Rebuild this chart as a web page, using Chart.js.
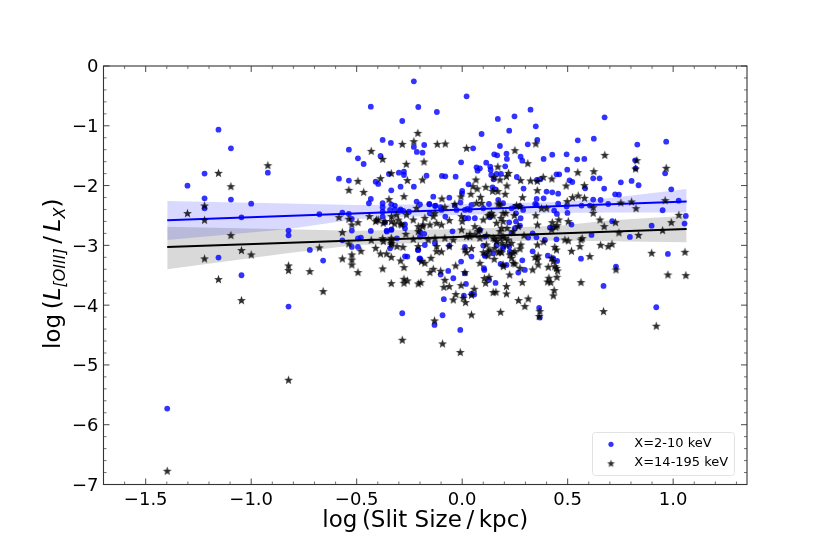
<!DOCTYPE html>
<html>
  <head>
    <title>Slit size</title>
    <script src="https://cdn.jsdelivr.net/npm/chart.js@4/dist/chart.umd.js"></script>
    <style>
      body { margin: 0; background: #fff; }
      canvas { display: block; }
    </style>
  </head>
  <body>
    <canvas id="slitChart" width="830" height="554"></canvas>
    <script>
      // values: [log slit size, log ratio]
      var softPoints = [
        [-0.229,-0.256],[-0.433,-0.680],[-0.208,-0.686],[-0.284,-0.920],[-1.155,-1.065],[-0.377,-1.237],[-0.338,-1.287],[-1.096,-1.377],
        [-0.229,-1.354],[-0.215,-1.438],[-0.537,-1.399],[-0.494,-1.544],[-0.387,-1.505],[-0.467,-1.639],[-1.221,-1.800],[-0.921,-1.784],
        [-0.347,-1.806],[-0.300,-1.784],[-0.276,-1.767],[-0.276,-1.823],[-0.584,-1.884],[-0.537,-1.917],[-0.410,-1.934],[-0.398,-1.973],
        [-1.302,-2.001],[-0.292,-2.018],[-0.229,-2.018],[-0.336,-2.079],[-1.221,-2.213],[-1.096,-2.235],[-0.433,-2.224],[-0.442,-2.296],
        [-1.000,-2.302],[-0.377,-2.296],[-1.221,-2.380],[-0.377,-2.363],[-0.216,-2.268],[-0.336,-2.313],[-0.319,-2.335],[-0.377,-2.436],
        [-0.677,-2.480],[-0.568,-2.453],[-0.537,-2.475],[-0.319,-2.397],[-0.292,-2.397],[-0.279,-2.425],[-0.252,-2.436],[-1.046,-2.531],
        [-0.523,-2.559],[-0.377,-2.519],[-0.366,-2.614],[-0.271,-2.648],[-0.823,-2.753],[-0.823,-2.832],[-0.523,-2.753],[-0.433,-2.759],
        [-0.357,-2.770],[-0.336,-2.742],[-0.271,-2.715],[-0.568,-2.915],[-0.494,-2.882],[-0.480,-2.870],[-0.309,-2.882],[-0.523,-3.027],
        [-0.494,-3.027],[-0.210,-3.077],[-1.155,-3.205],[-0.722,-3.077],[-0.659,-3.255],[-0.271,-3.183],[-0.260,-3.188],[-0.203,-3.227],
        [-1.046,-3.500],[-0.823,-4.024],[-0.284,-4.136],[-1.398,-5.730],
        [0.021,-0.507],[-0.120,-0.769],[0.169,-0.886],[0.248,-0.842],[0.324,-0.730],[0.349,-1.009],[0.223,-1.081],[0.092,-1.137],
        [0.675,-0.858],[0.356,-1.237],[0.548,-1.243],[0.624,-1.215],[0.311,-1.310],[0.179,-1.338],[-0.180,-1.321],[0.830,-1.315],
        [0.967,-1.265],[-0.188,-1.449],[0.052,-1.377],[0.152,-1.477],[0.166,-1.494],[0.210,-1.466],[0.277,-1.516],[0.285,-1.583],
        [0.212,-1.555],[0.386,-1.555],[0.427,-1.483],[0.495,-1.477],[0.545,-1.561],[0.579,-1.555],[0.820,-1.577],[-0.005,-1.611],
        [0.114,-1.617],[0.068,-1.695],[0.084,-1.711],[0.133,-1.683],[0.073,-1.750],[0.135,-1.739],[0.204,-1.678],[0.498,-1.734],
        [0.822,-1.711],[0.962,-1.795],[0.138,-1.823],[0.163,-1.806],[0.184,-1.806],[-0.096,-1.839],[-0.080,-1.845],[-0.031,-1.851],
        [-0.169,-1.834],[0.259,-1.856],[0.354,-1.906],[0.371,-1.895],[0.447,-1.812],[0.460,-1.812],[0.509,-1.912],[0.522,-1.940],
        [0.621,-1.878],[0.651,-1.878],[0.752,-1.945],[0.803,-1.923],[0.836,-1.995],[0.030,-1.979],[0.149,-1.895],[0.000,-2.090],
        [-0.001,-2.129],[0.144,-2.029],[0.157,-2.062],[0.291,-2.051],[0.400,-2.101],[0.427,-2.113],[0.455,-2.135],[0.673,-2.051],
        [-0.137,-2.185],[-0.061,-2.202],[0.583,-2.046],[0.353,-2.224],[0.386,-2.213],[0.353,-2.324],[0.725,-2.146],[0.743,-2.152],
        [0.621,-2.235],[0.656,-2.241],[0.991,-2.062],[1.026,-2.252],[-0.155,-2.313],[-0.126,-2.335],[-0.102,-2.363],[-0.035,-2.330],
        [-0.008,-2.285],[0.044,-2.324],[0.127,-2.308],[0.455,-2.302],[0.692,-2.308],[0.950,-2.413],[0.346,-2.308],[0.495,-2.352],
        [0.566,-2.335],[0.605,-2.335],[-0.200,-2.313],[-0.080,-2.519],[-0.027,-2.408],[0.013,-2.408],[0.025,-2.391],[0.100,-2.380],
        [-0.153,-2.464],[0.499,-2.458],[0.436,-2.419],[0.449,-2.475],[0.255,-2.464],[0.289,-2.408],[0.277,-2.547],[1.060,-2.508],
        [1.054,-2.636],[0.711,-2.597],[0.898,-2.670],[0.613,-2.826],[0.795,-2.859],[0.223,-2.614],[0.255,-2.603],[0.274,-2.670],
        [0.518,-2.653],[0.416,-2.703],[0.428,-2.703],[0.334,-2.798],[0.313,-2.870],[-0.046,-2.765],[-0.180,-2.809],[0.447,-2.899],
        [-0.200,-2.854],[-0.129,-2.965],[-0.061,-3.004],[0.013,-3.027],[0.044,-3.188],[0.334,-3.099],[0.406,-3.172],[0.563,-3.222],
        [0.975,-3.144],[0.285,-3.250],[-0.005,-3.272],[0.103,-3.383],[-0.066,-3.428],[-0.196,-3.244],[0.729,-3.355],[0.450,-3.261],
        [0.195,-3.021],[0.223,-3.021],[-0.200,-2.770],[0.297,-3.411],[-0.102,-3.489],[-0.042,-3.550],[0.013,-3.467],[0.266,-3.456],
        [0.127,-3.578],[0.158,-3.628],[0.018,-3.645],[0.670,-3.679],[-0.087,-3.901],[-0.093,-4.169],[0.008,-3.840],[0.044,-3.812],
        [0.057,-3.823],[0.365,-4.046],[0.368,-4.208],[-0.131,-4.331],[-0.009,-4.414],[0.920,-4.035],[0.105,-3.411],
        [0.250,-2.714],[0.234,-2.798],[0.352,-2.865],[0.392,-2.909],[0.171,-2.240],[0.194,-2.296],[0.234,-2.380],[0.250,-2.352],
        [0.273,-2.341],[0.036,-2.408],[0.060,-2.547],[0.029,-2.547],[0.013,-2.547],[0.084,-2.742],[0.108,-2.854],[0.100,-3.004],
        [0.194,-3.049],[0.163,-2.993],[0.108,-3.160],[0.131,-2.530],[0.108,-3.177],[0.147,-3.133],[0.182,-3.311],[0.210,-3.328],
        [0.431,-3.216],[0.226,-3.105],[-0.342,-2.408],[-0.295,-2.420],[-0.156,-2.308],[-0.129,-2.342],[-0.098,-2.408],[-0.342,-3.050],
        [-0.177,-2.994],[-0.208,-3.077],[-0.200,-3.217],[-0.358,-2.754],[-0.335,-2.732]
      ];
      var hardPoints = [
        [-0.921,-1.667],[-1.155,-1.795],[-1.096,-2.018],[-1.302,-2.469],[-1.221,-2.341],[-1.221,-2.581],[-1.096,-2.837],[-1.046,-3.088],
        [-1.000,-3.160],[-1.221,-3.227],[-0.823,-3.344],[-0.823,-3.422],[-0.722,-3.439],[-0.677,-3.043],[-0.584,-2.536],[-0.537,-2.564],
        [-0.523,-2.659],[-0.494,-2.620],[-0.568,-2.787],[-0.568,-3.227],[-0.537,-2.977],[-0.523,-3.160],[-0.523,-3.244],[-0.523,-3.328],
        [-0.480,-3.099],[-0.494,-3.456],[-0.431,-1.427],[-0.377,-1.561],[-0.284,-1.310],[-0.229,-1.265],[-0.210,-1.126],[-0.265,-1.644],
        [-0.336,-1.800],[-0.387,-1.884],[-0.260,-1.917],[-0.494,-1.929],[-0.537,-2.079],[-0.467,-2.113],[-0.276,-2.185],[-0.347,-2.235],
        [-0.440,-2.519],[-0.410,-2.603],[-0.398,-2.575],[-0.366,-2.603],[-0.335,-2.519],[-0.311,-2.492],[-0.335,-2.603],[-0.320,-2.642],
        [-0.292,-2.642],[-0.264,-2.492],[-0.232,-2.575],[-0.208,-2.687],[-0.267,-2.815],[-0.431,-2.915],[-0.410,-3.049],[-0.377,-2.887],
        [-0.374,-2.937],[-0.336,-2.882],[-0.336,-2.937],[-0.336,-2.993],[-0.309,-3.021],[-0.281,-3.032],[-0.387,-3.144],[-0.358,-3.144],
        [-0.336,-3.200],[-0.292,-3.261],[-0.276,-3.372],[-0.377,-3.394],[-0.216,-2.380],[-0.208,-3.021],
        [-1.155,-3.573],[-1.046,-3.924],[-0.659,-3.773],[-0.336,-3.640],[-0.276,-3.567],[-0.260,-3.595],[-0.276,-3.634],[-0.208,-3.645],
        [-0.284,-4.587],[-0.823,-5.256],[-1.398,-6.778],
        [-0.118,-1.310],[-0.080,-1.304],[0.021,-1.377],[0.349,-1.304],[-0.181,-1.605],[0.250,-1.416],[0.311,-1.633],[0.676,-1.494],
        [0.828,-1.583],[0.822,-1.722],[0.967,-1.711],[0.169,-1.689],[-0.188,-1.906],[0.065,-1.906],[0.152,-1.867],[0.179,-1.906],
        [0.210,-1.851],[0.220,-1.795],[0.384,-1.862],[0.425,-1.890],[0.356,-1.929],[0.277,-1.917],[0.324,-1.923],[0.548,-1.784],
        [0.624,-1.767],[0.493,-2.007],[0.579,-2.001],[0.051,-2.018],[0.071,-2.057],[0.112,-2.029],[0.144,-2.096],[0.169,-2.101],
        [0.204,-2.146],[0.212,-2.007],[0.356,-2.085],[-0.096,-2.224],[-0.006,-2.191],[0.041,-2.146],[0.087,-2.196],[0.286,-2.202],
        [0.550,-2.174],[0.523,-2.202],[0.498,-2.268],[0.580,-2.213],[0.752,-2.291],[0.803,-2.274],[0.824,-2.386],[0.962,-2.252],
        [-0.035,-2.313],[0.092,-2.296],[0.068,-2.296],[0.171,-2.308],[0.258,-2.335],[0.274,-2.352],[0.621,-2.464],[0.621,-2.369],
        [0.376,-2.386],[0.400,-2.386],[-0.082,-2.363],[-0.129,-2.464],[-0.177,-2.547],[-0.003,-2.519],[0.000,-2.603],[0.100,-2.575],
        [0.131,-2.492],[0.139,-2.464],[0.123,-2.503],[0.207,-2.464],[0.184,-2.547],[0.247,-2.503],[0.349,-2.503],[0.357,-2.659],
        [0.653,-2.575],[0.727,-2.620],[0.673,-2.687],[1.027,-2.497],[0.991,-2.620],[0.427,-2.620],[0.450,-2.670],[0.444,-2.698],
        [0.503,-2.603],[-0.153,-2.659],[-0.121,-2.631],[-0.188,-2.687],[-0.003,-2.742],[-0.061,-2.586],[0.037,-2.815],[0.060,-2.687],
        [0.084,-2.742],[0.116,-2.837],[0.147,-2.882],[0.179,-2.770],[0.213,-2.715],[0.163,-2.937],[0.179,-2.882],[0.202,-2.882],
        [0.218,-2.910],[0.293,-2.837],[0.743,-2.792],[0.836,-2.832],[0.950,-2.753],[0.569,-2.887],[0.563,-2.910],[0.487,-2.910],
        [0.503,-2.926],[0.386,-2.943],[0.357,-2.993],[0.439,-3.032],[0.447,-3.077],[0.518,-3.099],[0.558,-3.021],[0.656,-2.999],
        [0.692,-3.021],[0.710,-2.982],[0.605,-3.188],[0.898,-3.133],[1.056,-3.116],[-0.129,-2.882],[-0.042,-2.910],[-0.082,-2.882],
        [-0.161,-2.910],[-0.121,-3.021],[-0.121,-3.105],[-0.098,-3.110],[-0.061,-3.021],[0.013,-3.077],[0.044,-3.054],[0.100,-3.121],
        [0.131,-3.077],[0.155,-3.049],[0.179,-3.105],[0.242,-3.133],[0.278,-2.993],[0.274,-3.060],[0.234,-3.216],[0.242,-3.300],
        [0.152,-3.233],[0.084,-3.300],[0.195,-3.355],[-0.148,-3.216],[-0.177,-3.300],[-0.193,-3.272],[0.345,-3.200],[0.357,-3.244],
        [0.424,-3.216],[0.432,-3.272],[0.447,-3.383],[0.408,-3.366],[0.360,-3.328],[0.334,-3.411],[0.274,-3.383],[-0.031,-3.344],
        [-0.137,-3.400],[-0.153,-3.456],[-0.102,-3.433],[-0.082,-3.584],[0.013,-3.456],[0.225,-3.495],[0.105,-3.556],[0.127,-3.534],
        [0.111,-3.634],[-0.005,-3.673],[-0.087,-3.701],[-0.061,-3.690],[-0.030,-3.823],[-0.042,-3.913],[0.005,-3.885],[0.016,-3.957],
        [0.044,-3.835],[0.057,-3.734],[0.147,-3.790],[0.160,-3.784],[0.210,-3.690],[0.210,-3.812],[0.285,-3.623],[0.267,-3.924],
        [0.313,-3.896],[0.297,-4.024],[0.182,-4.119],[0.044,-4.164],[-0.131,-4.264],[-0.093,-4.648],[-0.009,-4.793],[0.411,-3.550],
        [0.405,-3.612],[0.420,-3.623],[0.436,-3.757],[0.432,-3.846],[0.449,-3.534],[0.563,-3.623],[0.368,-4.108],[0.365,-4.191],
        [0.670,-4.108],[0.920,-4.353],[0.975,-3.495],[1.060,-3.506],[-0.196,-3.623],[0.452,-3.428],[0.729,-3.411],
        [0.147,-2.508],[0.179,-2.324],[0.194,-2.463],[0.194,-2.603],[0.163,-2.631],[0.187,-2.714],[0.242,-2.770],[0.266,-2.686],
        [0.155,-2.898],[0.194,-2.854],[0.187,-2.965],[0.210,-2.993],[0.234,-2.965],[0.123,-3.104],[0.250,-3.104],[0.060,-2.826],
        [0.036,-2.854],[0.076,-2.770],[0.084,-2.881],[0.021,-2.854],[0.424,-2.742],[0.458,-2.575],[0.115,-2.993],[0.021,-3.122],
        [0.123,-3.177],[0.171,-3.122],[0.187,-3.122],[0.226,-3.161],[0.250,-3.311],[0.194,-3.328],[0.360,-3.177],[0.439,-3.356],
        [-0.406,-2.576],[-0.374,-2.631],[-0.303,-2.576],[-0.287,-2.659],[-0.185,-2.659],[-0.098,-2.659],[-0.137,-2.520],[-0.208,-2.771],
        [-0.335,-2.966],[-0.232,-2.899]
      ];

      // fit lines and their confidence bands
      var fitX = [-1.398, 1.064];
      var softFit = [-2.581, -2.268];
      var hardFit = [-3.027, -2.725];
      var bandX = [-1.398, -0.83, -0.5, 0, 0.46, 0.69, 1.064];
      var softUpper = [-2.258, -2.30, -2.324, -2.31, -2.274, -2.212, -2.057];
      var softLower = [-2.910, -2.731, -2.56, -2.49, -2.46, -2.45, -2.45];
      var hardUpper = [-2.687, -2.73, -2.754, -2.726, -2.672, -2.585, -2.503];
      var hardLower = [-3.40, -3.133, -2.993, -2.938, -2.92, -2.93, -2.948];

      var xTicks = [-1.5, -1.0, -0.5, 0.0, 0.5, 1.0];
      var yTicks = [0, -1, -2, -3, -4, -5, -6, -7];
      var xMinor = [-1.7, -1.6, -1.4, -1.3, -1.2, -1.1, -0.9, -0.8, -0.7, -0.6, -0.4, -0.3, -0.2, -0.1, 0.1, 0.2, 0.3, 0.4, 0.6, 0.7, 0.8, 0.9, 1.1, 1.2, 1.3];
      var yMinor = [-0.2, -0.4, -0.6, -0.8, -1.2, -1.4, -1.6, -1.8, -2.2, -2.4, -2.6, -2.8, -3.2, -3.4, -3.6, -3.8, -4.2, -4.4, -4.6, -4.8, -5.2, -5.4, -5.6, -5.8, -6.2, -6.4, -6.6, -6.8];
      var legendLabels = ["X=2-10 keV", "X=14-195 keV"];

      var fontFamily = "'DejaVu Sans', sans-serif";
      var softColor = "rgba(0, 0, 255, 0.8)";
      var hardColor = "rgba(0, 0, 0, 0.82)";

      // Chart.js 'star' is an asterisk, so make a filled five pointed one
      function makeStar(size, outer, inner, color) {
        var c = document.createElement("canvas");
        c.width = size;
        c.height = size;
        var g = c.getContext("2d");
        g.fillStyle = color;
        g.beginPath();
        for (var i = 0; i < 10; i++) {
          var r = i % 2 ? inner : outer;
          var a = -Math.PI / 2 + i * Math.PI / 5;
          g.lineTo(size / 2 + r * Math.cos(a), size / 2 + r * Math.sin(a));
        }
        g.closePath();
        g.fill();
        return c;
      }
      var starImage = makeStar(11, 4.7, 2.0, hardColor);

      function zip(xs, ys) {
        return xs.map(function (x, i) { return { x: x, y: ys[i] }; });
      }
      function toXY(p) {
        return { x: p[0], y: p[1] };
      }
      function bandSet(ys, fill, color, order) {
        return { data: zip(bandX, ys), showLine: true, pointRadius: 0, borderWidth: 0, fill: fill, backgroundColor: color, order: order, tension: 0 };
      }
      function fitSet(ys, color, order) {
        return { data: zip(fitX, ys), showLine: true, pointRadius: 0, borderWidth: 2, borderColor: color, fill: false, order: order };
      }

      // inward ticks on all four sides and the frame
      var framePlugin = {
        id: "frame",
        afterDraw: function (chart) {
          var g = chart.ctx, a = chart.chartArea, x = chart.scales.x, y = chart.scales.y;
          g.save();
          g.strokeStyle = "#333";
          function mark(x0, y0, x1, y1, w) {
            g.lineWidth = w;
            g.beginPath();
            g.moveTo(x0, y0);
            g.lineTo(x1, y1);
            g.stroke();
          }
          xMinor.forEach(function (v) {
            var p = x.getPixelForValue(v);
            mark(p, a.top, p, a.top + 3, 0.7);
            mark(p, a.bottom, p, a.bottom - 3, 0.7);
          });
          xTicks.forEach(function (v) {
            var p = x.getPixelForValue(v);
            mark(p, a.top, p, a.top + 6, 0.9);
            mark(p, a.bottom, p, a.bottom - 6, 0.9);
          });
          yMinor.forEach(function (v) {
            var p = y.getPixelForValue(v);
            mark(a.left, p, a.left + 3, p, 0.7);
            mark(a.right, p, a.right - 3, p, 0.7);
          });
          yTicks.forEach(function (v) {
            var p = y.getPixelForValue(v);
            mark(a.left, p, a.left + 6, p, 0.9);
            mark(a.right, p, a.right - 6, p, 0.9);
          });
          g.lineWidth = 1.1;
          g.strokeRect(a.left, a.top, a.right - a.left, a.bottom - a.top);
          g.restore();
        }
      };

      // y title needs subscripts, so it goes piece by piece
      var yTitlePlugin = {
        id: "yTitle",
        afterDraw: function (chart) {
          var g = chart.ctx;
          var big = "23px " + fontFamily, bigI = "italic 23px " + fontFamily, small = "italic 16px " + fontFamily;
          var parts = [
            ["log\u2009(", big, 0], ["L", bigI, 0], ["[OIII]", small, 5], ["\u2009/\u2009", big, 0],
            ["L", bigI, 0], ["X", small, 5], [")", big, 0]
          ];
          g.save();
          g.translate(60, 349);
          g.rotate(-Math.PI / 2);
          g.fillStyle = "#000";
          g.textBaseline = "alphabetic";
          var pos = 0;
          parts.forEach(function (p) {
            g.font = p[1];
            g.fillText(p[0], pos, p[2]);
            pos += g.measureText(p[0]).width;
          });
          g.restore();
        }
      };

      var legendPlugin = {
        id: "boxLegend",
        afterDraw: function (chart) {
          var g = chart.ctx;
          g.save();
          g.fillStyle = "rgba(255, 255, 255, 0.8)";
          g.strokeStyle = "#e2e2e2";
          g.lineWidth = 1;
          g.beginPath();
          g.roundRect(592.5, 432.5, 142, 43, 3);
          g.fill();
          g.stroke();
          g.fillStyle = softColor;
          g.beginPath();
          g.arc(611, 444.3, 2.6, 0, Math.PI * 2);
          g.fill();
          g.drawImage(makeStar(11, 4, 1.7, hardColor), 611 - 5.5, 463.7 - 5.5);
          g.fillStyle = "#000";
          g.font = "13px " + fontFamily;
          g.textBaseline = "middle";
          g.fillText(legendLabels[0], 634.3, 443.5);
          g.fillText(legendLabels[1], 634.3, 462.7);
          g.restore();
        }
      };

      var ctx = document.getElementById("slitChart").getContext("2d");
      var slitChart = new Chart(ctx, {
        type: "scatter",
        data: {
          datasets: [
            bandSet(softUpper, "+1", "rgba(0, 0, 255, 0.15)", 9),
            bandSet(softLower, false, "rgba(0, 0, 255, 0)", 9),
            bandSet(hardUpper, "+1", "rgba(0, 0, 0, 0.15)", 8),
            bandSet(hardLower, false, "rgba(0, 0, 0, 0)", 8),
            { label: legendLabels[0], data: softPoints.map(toXY), pointStyle: "circle", pointRadius: 2.9, borderWidth: 0, backgroundColor: softColor, order: 7 },
            fitSet(softFit, "#0000ff", 6),
            { label: legendLabels[1], data: hardPoints.map(toXY), pointStyle: starImage, pointRadius: 5, order: 5 },
            fitSet(hardFit, "#000000", 4)
          ]
        },
        options: {
          responsive: false,
          animation: false,
          devicePixelRatio: 1,
          layout: { padding: { top: 66, right: 83, left: 0, bottom: 19 } },
          plugins: { legend: { display: false }, tooltip: { enabled: false } },
          scales: {
            x: {
              min: -1.7,
              max: 1.35,
              grid: { display: false, drawTicks: false },
              border: { display: false },
              afterBuildTicks: function (s) { s.ticks = xTicks.map(function (v) { return { value: v }; }); },
              afterFit: function (s) { s.height = 50.5; },
              ticks: {
                color: "#000",
                padding: 5,
                maxRotation: 0,
                autoSkip: false,
                font: { family: fontFamily, size: 18 },
                callback: function (v) { return v.toFixed(1).replace("-", "\u2212"); }
              },
              title: {
                display: true,
                text: "log\u2009(Slit Size\u2009/\u2009kpc)",
                color: "#000",
                padding: { top: 0, bottom: 0 },
                font: { family: fontFamily, size: 23 }
              }
            },
            y: {
              min: -7,
              max: 0,
              grid: { display: false, drawTicks: false },
              border: { display: false },
              afterBuildTicks: function (s) { s.ticks = yTicks.map(function (v) { return { value: v }; }); },
              afterFit: function (s) { s.width = 103.5; },
              ticks: {
                color: "#000",
                padding: 5,
                autoSkip: false,
                // empty first line nudges the label down a little, middle baseline sits too high
                font: { family: fontFamily, size: 18, lineHeight: 0.2 },
                callback: function (v) { return ["", String(v).replace("-", "\u2212")]; }
              }
            }
          }
        },
        plugins: [framePlugin, yTitlePlugin, legendPlugin]
      });
    </script>
  </body>
</html>
